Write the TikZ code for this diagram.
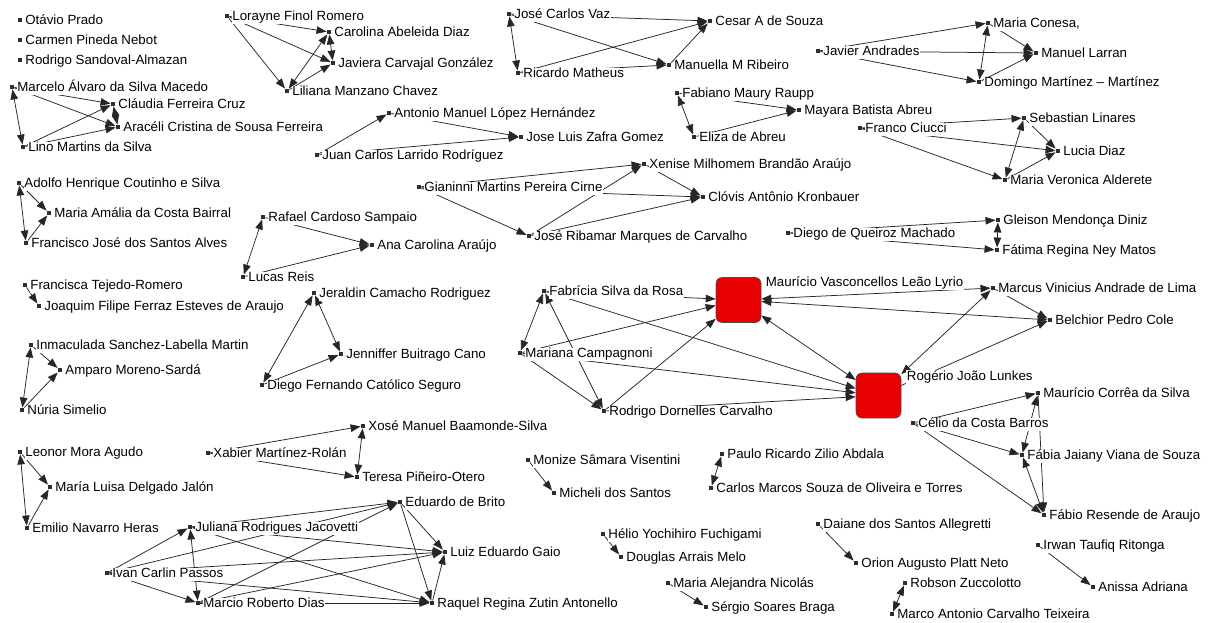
\documentclass[tikz,border=0pt]{standalone}
\usepackage{fontspec}
\setmainfont{Liberation Sans}
\usetikzlibrary{arrows.meta}
\pgfdeclarelayer{bglayer}
\pgfdeclarelayer{edgelayer}
\pgfsetlayers{bglayer,edgelayer,main}
\definecolor{mkc}{RGB}{40,45,70}
\definecolor{boxred}{RGB}{232,0,0}
\tikzset{
  >={Triangle[length=10pt,width=7.5pt]},
  mk/.style={rectangle,inner sep=0pt,minimum size=4.5pt,fill=mkc},
  lb/.style={anchor=west,fill=white,inner sep=0.7pt,text height=9.5pt,text depth=2.7pt,font=\fontsize{13.3pt}{15pt}\selectfont},
  big/.style={rectangle,rounded corners=6pt,minimum size=45pt,inner sep=0pt,fill=boxred,draw=black!70,line width=0.6pt},
  ed/.style={draw=black!85,line width=0.75pt,->},
  bi/.style={draw=black!85,line width=0.75pt,<->},
}
\newcommand\pn[4]{\node[mk] (#1) at (#2,#3) {}; \node[lb] (#1-l) at (#2+4.5,#3+1.5) {#4};}
\begin{document}
\begin{tikzpicture}[x=1pt,y=-1pt]
\useasboundingbox (0,0) rectangle (1211,622);
\begin{pgfonlayer}{bglayer}
\fill[white] (0,0) rectangle (1211,622);
\end{pgfonlayer}
% isolates
\pn{otavio}{20}{20}{Otávio Prado}
\pn{carmen}{20}{40}{Carmen Pineda Nebot}
\pn{rodsand}{20}{60}{Rodrigo Sandoval-Almazan}
% Marcelo group
\pn{marcelo}{12}{87}{Marcelo Álvaro da Silva Macedo}
\pn{claudia}{113}{104}{Cláudia Ferreira Cruz}
\pn{araceli}{118}{127}{Aracéli Cristina de Sousa Ferreira}
\pn{lino}{23}{147}{Lino Martins da Silva}
% Lorayne group
\pn{lorayne}{227}{16}{Lorayne Finol Romero}
\pn{carolina}{329}{32}{Carolina Abeleida Diaz}
\pn{javiera}{333}{63}{Javiera Carvajal González}
\pn{liliana}{287}{91}{Liliana Manzano Chavez}
% Jose Carlos Vaz group
\pn{josecv}{509}{14}{José Carlos Vaz}
\pn{ricardo}{518}{73}{Ricardo Matheus}
\pn{cesar}{710}{21}{Cesar A de Souza}
\pn{manuella}{669}{65}{Manuella M Ribeiro}
% Javier group
\pn{javier}{818}{51}{Javier Andrades}
\pn{conesa}{988}{23}{Maria Conesa,}
\pn{larran}{1036}{53}{Manuel Larran}
\pn{domingo}{979}{82}{Domingo Martínez – Martínez}
% Fabiano group
\pn{fabiano}{677}{93}{Fabiano Maury Raupp}
\pn{eliza}{694}{137}{Eliza de Abreu}
\pn{mayara}{799}{110}{Mayara Batista Abreu}
% Franco group
\pn{franco}{860}{128}{Franco Ciucci}
\pn{sebastian}{1024}{118}{Sebastian Linares}
\pn{lucia}{1058}{151}{Lucia Diaz}
\pn{veronica}{1005}{180}{Maria Veronica Alderete}
% Antonio group
\pn{antonio}{389}{113}{Antonio Manuel López Hernández}
\pn{zafra}{521}{137}{Jose Luis Zafra Gomez}
\pn{juan}{317}{155}{Juan Carlos Larrido Rodríguez}
% Gianinni group
\pn{gianinni}{419}{187}{Gianinni Martins Pereira Cirne}
\pn{xenise}{644}{164}{Xenise Milhomem Brandão Araújo}
\pn{clovis}{703}{197}{Clóvis Antônio Kronbauer}
\pn{ribamar}{529}{236}{José Ribamar Marques de Carvalho}
% Adolfo group
\pn{adolfo}{19}{183}{Adolfo Henrique Coutinho e Silva}
\pn{amalia}{49}{213}{Maria Amália da Costa Bairral}
\pn{francisco}{26}{243}{Francisco José dos Santos Alves}
% Francisca
\pn{francisca}{25}{285}{Francisca Tejedo-Romero}
\pn{joaquim}{39}{306}{Joaquim Filipe Ferraz Esteves de Araujo}
% Inmaculada
\pn{inmaculada}{31}{345}{Inmaculada Sanchez-Labella Martin}
\pn{amparo}{60}{370}{Amparo Moreno-Sardá}
\pn{nuria}{22}{410}{Núria Simelio}
% Rafael
\pn{rafael}{263}{217}{Rafael Cardoso Sampaio}
\pn{ana}{372}{245}{Ana Carolina Araújo}
\pn{lucas}{243}{277}{Lucas Reis}
% Jeraldin
\pn{jeraldin}{314}{293}{Jeraldin Camacho Rodriguez}
\pn{jenniffer}{341}{354}{Jenniffer Buitrago Cano}
\pn{diegof}{262}{385}{Diego Fernando Católico Seguro}
% central
\pn{fabricia}{544}{291}{Fabrícia Silva da Rosa}
\pn{mariana}{520}{353}{Mariana Campagnoni}
\pn{rodrigod}{604}{411}{Rodrigo Dornelles Carvalho}
\node[big] (mauricio) at (738.5,300) {};
\node[lb] (mauricio-l) at (765,283) {Maurício Vasconcellos Leão Lyrio};
\node[big] (rogerio) at (878.5,395.5) {};
\node[lb] (rogerio-l) at (906,377) {Rogério João Lunkes};
\pn{marcus}{993}{288}{Marcus Vinicius Andrade de Lima}
\pn{belchior}{1050}{320}{Belchior Pedro Cole}
% Diego de Queiroz
\pn{diegoq}{788}{233}{Diego de Queiroz Machado}
\pn{gleison}{998}{220}{Gleison Mendonça Diniz}
\pn{fatima}{997}{250}{Fátima Regina Ney Matos}
% Celio
\pn{mcorrea}{1038}{393}{Maurício Corrêa da Silva}
\pn{celio}{913}{423}{Célio da Costa Barros}
\pn{fabia}{1022}{455}{Fábia Jaiany Viana de Souza}
\pn{fabio}{1044}{515}{Fábio Resende de Araujo}
% Irwan
\pn{irwan}{1038}{545}{Irwan Taufiq Ritonga}
\pn{anissa}{1093}{587}{Anissa Adriana}
% Leonor
\pn{leonor}{20}{452}{Leonor Mora Agudo}
\pn{marialuisa}{50}{487}{María Luisa Delgado Jalón}
\pn{emilio}{27}{528}{Emilio Navarro Heras}
% Xabier
\pn{xabier}{208}{453}{Xabier Martínez-Rolán}
\pn{xose}{363}{426}{Xosé Manuel Baamonde-Silva}
\pn{teresa}{357}{477}{Teresa Piñeiro-Otero}
% Ivan
\pn{juliana}{190}{527}{Juliana Rodrigues Jacovetti}
\pn{ivan}{107}{573}{Ivan Carlin Passos}
\pn{marcio}{198}{603}{Marcio Roberto Dias}
\pn{eduardo}{400}{502}{Eduardo de Brito}
\pn{luiz}{445}{552}{Luiz Eduardo Gaio}
\pn{raquel}{432}{603}{Raquel Regina Zutin Antonello}
% pairs
\pn{monize}{528}{460}{Monize Sâmara Visentini}
\pn{micheli}{554}{493}{Micheli dos Santos}
\pn{paulo}{722}{454}{Paulo Ricardo Zilio Abdala}
\pn{carlosm}{711}{488}{Carlos Marcos Souza de Oliveira e Torres}
\pn{helio}{603}{534}{Hélio Yochihiro Fuchigami}
\pn{douglas}{621}{557}{Douglas Arrais Melo}
\pn{alejandra}{668}{583}{Maria Alejandra Nicolás}
\pn{sergio}{706}{607}{Sérgio Soares Braga}
\pn{daiane}{818}{524}{Daiane dos Santos Allegretti}
\pn{orion}{856}{563}{Orion Augusto Platt Neto}
\pn{robson}{905}{583}{Robson Zuccolotto}
\pn{marco}{892}{614}{Marco Antonio Carvalho Teixeira}

\begin{pgfonlayer}{edgelayer}
% Marcelo
\draw[bi] (marcelo) -- (lino);
\draw[ed] (marcelo) -- (claudia);
\draw[ed] (marcelo) -- (araceli);
\draw[ed] (lino) -- (claudia);
\draw[ed] (lino) -- (araceli);
\draw[bi] (claudia) -- (araceli);
% Lorayne
\draw[ed] (lorayne) -- (carolina);
\draw[ed] (lorayne) -- (javiera);
\draw[ed] (lorayne) -- (liliana);
\draw[bi] (liliana) -- (carolina);
\draw[ed] (liliana) -- (javiera);
\draw[bi] (carolina) -- (javiera);
% Jose Carlos Vaz
\draw[bi] (josecv) -- (ricardo);
\draw[ed] (josecv) -- (cesar);
\draw[ed] (josecv) -- (manuella);
\draw[ed] (ricardo) -- (cesar);
\draw[ed] (ricardo) -- (manuella);
\draw[ed] (manuella) -- (cesar);
% Javier
\draw[ed] (javier) -- (conesa);
\draw[ed] (javier) -- (larran);
\draw[ed] (javier) -- (domingo);
\draw[bi] (conesa) -- (domingo);
\draw[ed] (conesa) -- (larran);
\draw[ed] (domingo) -- (larran);
% Fabiano
\draw[bi] (fabiano) -- (eliza);
\draw[ed] (fabiano) -- (mayara);
\draw[ed] (eliza) -- (mayara);
% Franco
\draw[ed] (franco) -- (sebastian);
\draw[ed] (franco) -- (lucia);
\draw[ed] (franco) -- (veronica);
\draw[bi] (sebastian) -- (veronica);
\draw[ed] (sebastian) -- (lucia);
\draw[ed] (veronica) -- (lucia);
% Antonio
\draw[ed] (juan) -- (antonio);
\draw[ed] (antonio) -- (zafra);
\draw[ed] (juan) -- (zafra);
% Gianinni
\draw[ed] (gianinni) -- (xenise);
\draw[ed] (gianinni) -- (clovis);
\draw[ed] (gianinni) -- (ribamar);
\draw[ed] (ribamar) -- (xenise);
\draw[ed] (ribamar) -- (clovis);
\draw[ed] (xenise) -- (clovis);
% Adolfo
\draw[bi] (adolfo) -- (francisco);
\draw[ed] (adolfo) -- (amalia);
\draw[ed] (francisco) -- (amalia);
% Francisca
\draw[ed] (francisca) -- (joaquim);
% Inmaculada
\draw[bi] (inmaculada) -- (nuria);
\draw[ed] (inmaculada) -- (amparo);
\draw[ed] (nuria) -- (amparo);
% Rafael
\draw[bi] (rafael) -- (lucas);
\draw[ed] (rafael) -- (ana);
\draw[ed] (lucas) -- (ana);
% Jeraldin
\draw[bi] (diegof) -- (jeraldin);
\draw[bi] (jeraldin) -- (jenniffer);
\draw[ed] (diegof) -- (jenniffer);
% central
\draw[bi] (fabricia) -- (mariana);
\draw[ed] (fabricia) -- (mauricio);
\draw[ed] (fabricia) -- (rogerio);
\draw[ed] (mariana) -- (mauricio);
\draw[ed] (mariana) -- (rogerio);
\draw[ed] (mariana) -- (rodrigod);
\draw[bi] (fabricia) -- (rodrigod);
\draw[ed] (rodrigod) -- (mauricio);
\draw[ed] (rodrigod) -- (rogerio);
\draw[bi] (mauricio) -- (rogerio);
\draw[bi] (mauricio) -- (marcus);
\draw[bi] (mauricio) -- (belchior);
\draw[ed] (marcus) -- (belchior);
\draw[bi] (rogerio) -- (marcus);
\draw[ed] (rogerio) -- (belchior);
% Diego de Queiroz
\draw[ed] (diegoq) -- (gleison);
\draw[ed] (diegoq) -- (fatima);
\draw[bi] (gleison) -- (fatima);
% Celio
\draw[ed] (celio) -- (mcorrea);
\draw[ed] (celio) -- (fabia);
\draw[ed] (celio) -- (fabio);
\draw[bi] (mcorrea) -- (fabia);
\draw[ed] (mcorrea) -- (fabio);
\draw[bi] (fabia) -- (fabio);
% Irwan
\draw[ed] (irwan) -- (anissa);
% Leonor
\draw[bi] (leonor) -- (emilio);
\draw[ed] (leonor) -- (marialuisa);
\draw[ed] (emilio) -- (marialuisa);
% Xabier
\draw[ed] (xabier) -- (xose);
\draw[ed] (xabier) -- (teresa);
\draw[bi] (xose) -- (teresa);
% Ivan
\draw[ed] (ivan) -- (juliana);
\draw[ed] (ivan) -- (marcio);
\draw[bi] (juliana) -- (marcio);
\draw[ed] (juliana) -- (eduardo);
\draw[ed] (juliana) -- (luiz);
\draw[ed] (juliana) -- (raquel);
\draw[ed] (ivan) -- (eduardo);
\draw[ed] (ivan) -- (luiz);
\draw[ed] (ivan) -- (raquel);
\draw[ed] (marcio) -- (eduardo);
\draw[ed] (marcio) -- (luiz);
\draw[ed] (marcio) -- (raquel);
\draw[ed] (eduardo) -- (luiz);
\draw[ed] (eduardo) -- (raquel);
\draw[ed] (raquel) -- (luiz);
% pairs
\draw[ed] (monize) -- (micheli);
\draw[bi] (paulo) -- (carlosm);
\draw[ed] (helio) -- (douglas);
\draw[ed] (alejandra) -- (sergio);
\draw[ed] (daiane) -- (orion);
\draw[bi] (marco) -- (robson);
\end{pgfonlayer}
\end{tikzpicture}
\end{document}
